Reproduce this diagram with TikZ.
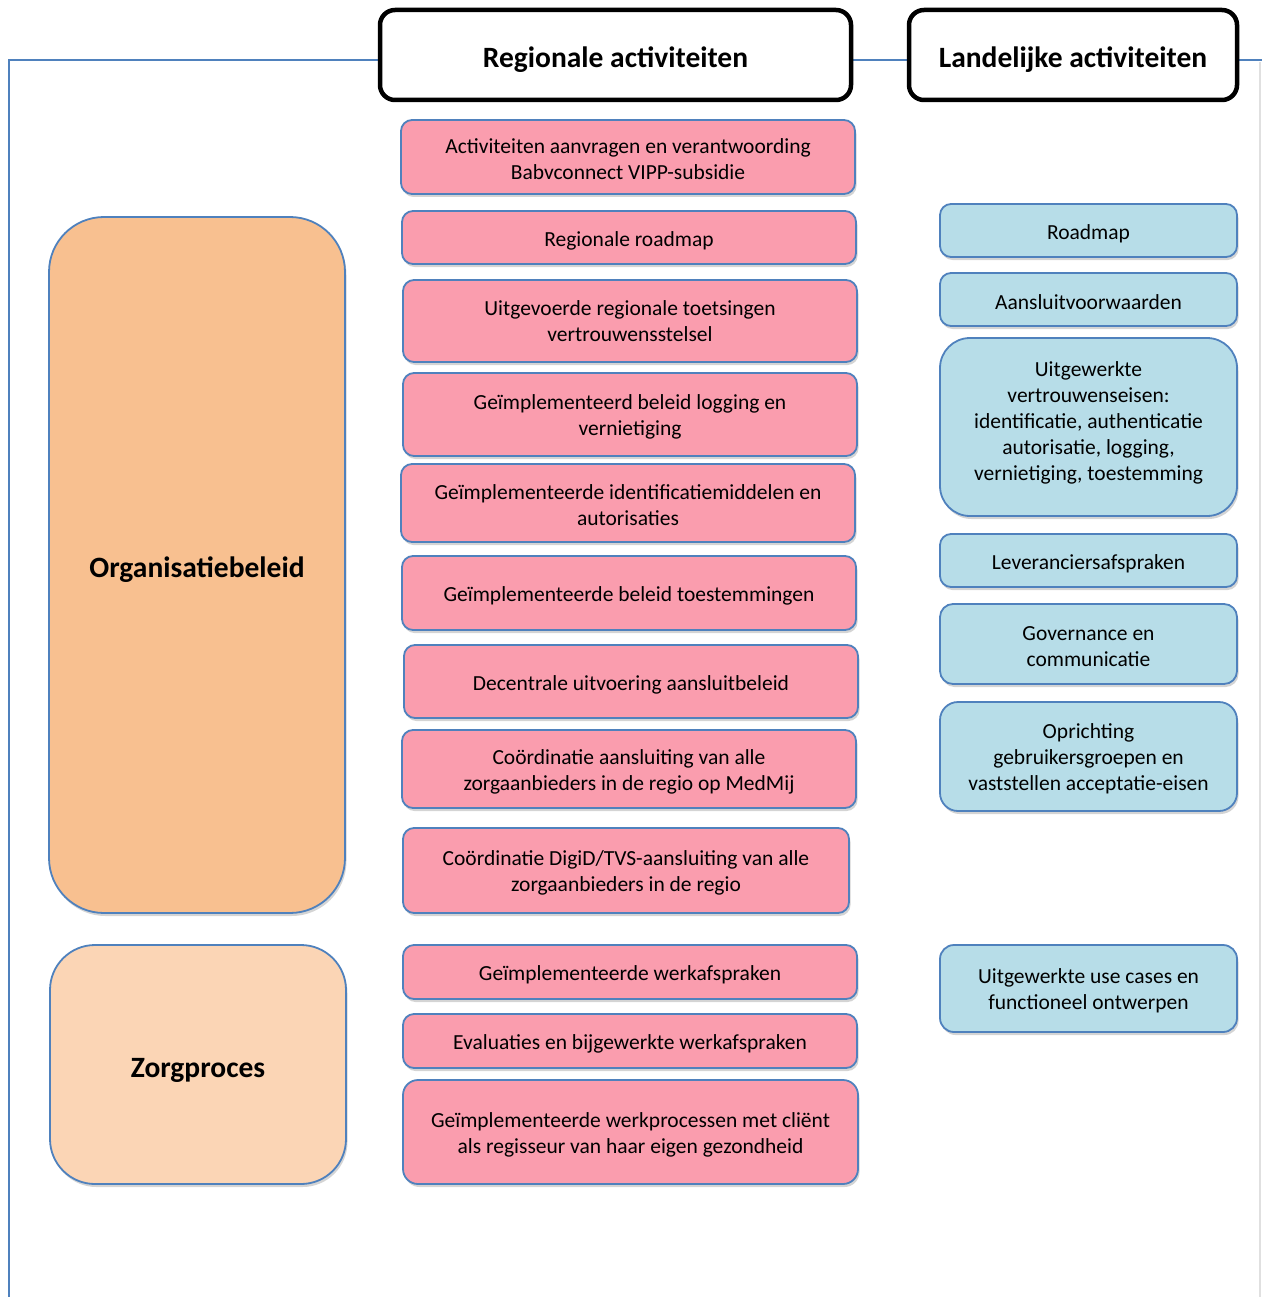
\documentclass[tikz,border=0pt]{standalone}
\usepackage{fontspec}
\setmainfont{Carlito}
\usetikzlibrary{shadows}
\definecolor{edgeblue}{RGB}{79,129,189}
\definecolor{pinkfill}{RGB}{250,157,174}
\definecolor{bluefill}{RGB}{183,221,232}
\definecolor{orangedark}{RGB}{248,192,144}
\definecolor{orangelight}{RGB}{251,213,181}
% zero-width struts that set the optical position of the text inside a box
\newcommand{\cardtop}{\rule{0pt}{21pt}}
\newcommand{\linetop}{\rule{0pt}{20pt}}
\newcommand{\bigtop}{\rule{0pt}{30pt}}
\tikzset{
  card/.style={draw=edgeblue, line width=1.8pt, align=center, inner sep=0pt,
    font=\fontsize{21.5}{26}\selectfont, execute at begin node=\cardtop,
    drop shadow={opacity=0.28, shadow xshift=1.5pt, shadow yshift=-3pt, fill=black!60}},
  regional/.style={card, fill=pinkfill, minimum width=454pt, rounded corners=11pt},
  national/.style={card, fill=bluefill, minimum width=297pt, rounded corners=11pt},
  areabox/.style={card, minimum width=296pt, font=\fontsize{29.5}{34}\selectfont\bfseries,
    execute at begin node=\bigtop},
  header/.style={draw=black, line width=4.5pt, fill=white, align=center, inner sep=0pt,
    rounded corners=15pt, minimum height=90pt, font=\fontsize{29.5}{34}\selectfont\bfseries,
    execute at begin node=\bigtop}
}
\begin{document}
\begin{tikzpicture}[x=1pt,y=-1pt]
\useasboundingbox (0,0) rectangle (1261,1297);

% outer frame (top and left edges visible)
\coordinate (frameBL) at (9,1310);
\coordinate (frameTL) at (9,60);
\coordinate (frameTR) at (1275,60);
\draw[edgeblue, line width=1.5pt] (frameBL) -- (frameTL) -- (frameTR);
\draw[black!12, line width=2pt] (1260,62) -- (1260,1297);

% column headers
\node[header, minimum width=471pt] (hreg) at (615.5,55) {Regionale activiteiten};
\node[header, minimum width=328pt] (hnat) at (1073,55) {Landelijke activiteiten};

% areas
\node[areabox, fill=orangedark, minimum height=696pt, rounded corners=55pt] (org) at (197,565) {Organisatiebeleid};
\node[areabox, fill=orangelight, minimum height=239pt, rounded corners=45pt] (zorg) at (198,1064.5) {Zorgproces};

% regional activities
\node[regional, minimum height=74pt] (r1) at (628,157) {\linetop Activiteiten aanvragen en verantwoording\\Babvconnect VIPP-subsidie};
\node[regional, minimum height=53pt] (r2) at (629,237.5) {Regionale roadmap};
\node[regional, minimum height=82pt] (r3) at (630,321) {Uitgevoerde regionale toetsingen\\vertrouwensstelsel};
\node[regional, minimum height=83pt] (r4) at (630,414.5) {\linetop Geïmplementeerd beleid logging en\\vernietiging};
\node[regional, minimum height=78pt] (r5) at (628,503) {\linetop Geïmplementeerde identificatiemiddelen en\\autorisaties};
\node[regional, minimum height=74pt] (r6) at (629,593) {Geïmplementeerde beleid toestemmingen};
\node[regional, minimum height=73pt] (r7) at (631,681.5) {Decentrale uitvoering aansluitbeleid};
\node[regional, minimum height=78pt] (r8) at (629,769) {\linetop Coördinatie aansluiting van alle\\zorgaanbieders in de regio op MedMij};
\node[regional, minimum height=85pt, minimum width=446pt] (r9) at (626,870.5) {\linetop Coördinatie DigiD/TVS-aansluiting van alle\\zorgaanbieders in de regio};
\node[regional, minimum height=54pt] (r10) at (630,972) {Geïmplementeerde werkafspraken};
\node[regional, minimum height=54pt] (r11) at (630,1041) {Evaluaties en bijgewerkte werkafspraken};
\node[regional, minimum height=104pt, minimum width=455pt, rounded corners=15pt] (r12) at (630.5,1132) {\linetop Geïmplementeerde werkprocessen met cliënt\\als regisseur van haar eigen gezondheid};

% national activities
\node[national, minimum height=53pt] (n1) at (1088.5,230.5) {Roadmap};
\node[national, minimum height=53pt] (n2) at (1088.5,299.5) {Aansluitvoorwaarden};
\node[national, minimum height=178pt, rounded corners=30pt, execute at begin node={},
  execute at end node={\rule[-11.5pt]{0pt}{0pt}}] (n3) at (1088.5,427) {Uitgewerkte\\vertrouwenseisen:\\identificatie, authenticatie\\autorisatie, logging,\\vernietiging, toestemming};
\node[national, minimum height=53pt] (n4) at (1088.5,560.5) {Leveranciersafspraken};
\node[national, minimum height=80pt, rounded corners=13pt] (n5) at (1088.5,644) {\linetop Governance en\\communicatie};
\node[national, minimum height=109pt, rounded corners=18pt] (n6) at (1088.5,756.5) {\linetop Oprichting\\gebruikersgroepen en\\vaststellen acceptatie-eisen};
\node[national, minimum height=87pt, rounded corners=14pt] (n7) at (1088.5,988.5) {\linetop Uitgewerkte use cases en\\functioneel ontwerpen};
\end{tikzpicture}
\end{document}
